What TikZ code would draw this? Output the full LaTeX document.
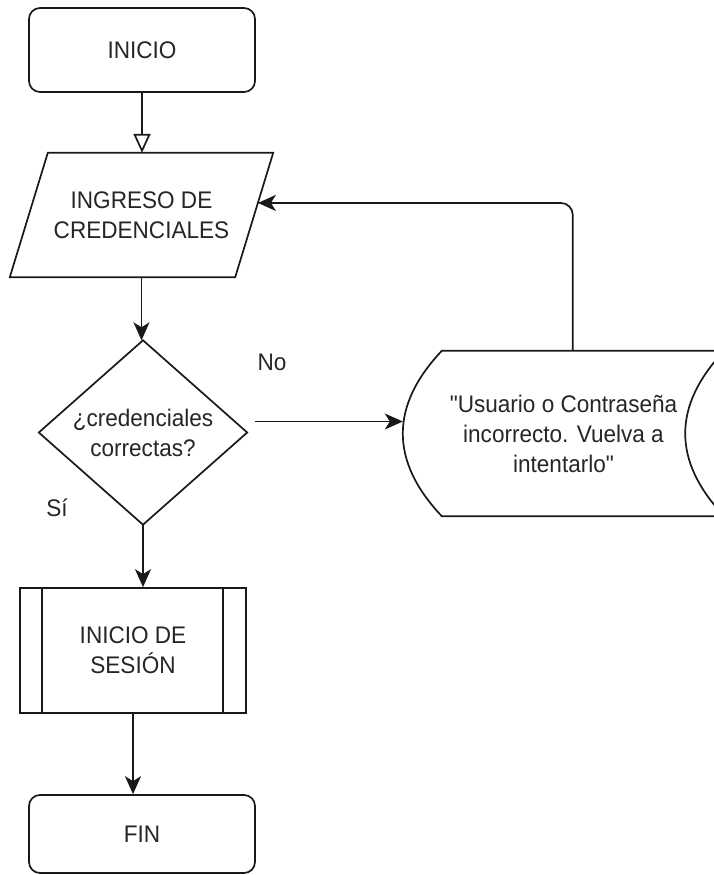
\documentclass[tikz,border=0pt]{standalone}
\usepackage{fontspec}
\setmainfont[FakeStretch=0.94, Ligatures=TeXOff]{Liberation Sans}
\usetikzlibrary{arrows.meta,calc}
\begin{document}
\begin{tikzpicture}[x=1pt,y=-1pt,
  line/.style={draw=black!90, line width=1.7pt},
  arr/.style={line, -{Stealth[length=18pt, width=16pt, inset=5pt]}},
  openarr/.style={line, -{Triangle[open, length=19pt, width=17pt, fill=white]}},
  shapebox/.style={font=\fontsize{24}{30}\selectfont, align=center, inner sep=0pt, text=black!85},
  term/.style={shapebox, line, rounded corners=11pt, minimum width=226pt},
  lbl/.style={font=\fontsize{24}{30}\selectfont, inner sep=0pt, text=black!85}]
\useasboundingbox (0,0) rectangle (714,875);
\clip (0,0) rectangle (714,875);
\fill[white] (0,0) rectangle (714,875);

% start terminal
\node[term, minimum height=84pt] (ini) at (142,50) {INICIO};

% input parallelogram
\node[shapebox, minimum width=263pt, minimum height=124pt] (ing) at (141.5,215) {INGRESO DE\\CREDENCIALES};
\draw[line] ($(ing.north west)+(38,0)$) -- (ing.north east) -- ($(ing.south east)+(-38,0)$) -- (ing.south west) -- cycle;

% decision
\node[shapebox, minimum width=208pt, minimum height=184pt] (dec) at (143,432.5) {¿credenciales\\correctas?};
\draw[line] (dec.north) -- (dec.east) -- (dec.south) -- (dec.west) -- cycle;

% stored data message
\node[shapebox, minimum width=321pt, minimum height=165pt] (sd) at (563.5,433.5) {"Usuario o Contraseña\\incorrecto. Vuelva a\\intentarlo"};
\draw[line] ($(sd.north west)+(39,0)$) -- (sd.north east)
  .. controls ($(sd.north east)+(-52,55)$) and ($(sd.south east)+(-52,-55)$) .. (sd.south east)
  -- ($(sd.south west)+(39,0)$)
  .. controls ($(sd.south west)+(-13,-55)$) and ($(sd.north west)+(-13,55)$) .. cycle;

% predefined process
\node[shapebox, line, minimum width=226pt, minimum height=125pt] (proc) at (133,650.5) {INICIO DE\\SESIÓN};
\draw[line] ($(proc.north west)+(23,0)$) -- ($(proc.south west)+(23,0)$);
\draw[line] ($(proc.north east)+(-24,0)$) -- ($(proc.south east)+(-24,0)$);

% end terminal
\node[term, minimum height=78pt] (fin) at (142,834) {FIN};

% branch labels
\node[lbl] (no) at (272,362) {No};
\node[lbl] (si) at (57,508) {Sí};

% connectors
\draw[openarr] (ini.south) -- (ini.south |- ing.north);
\draw[arr] (ing.south) -- (ing.south |- dec.north);
\coordinate (noStart) at ($(dec.east)+(8,-11)$);
\draw[arr] (noStart) -- (noStart -| sd.west);
\draw[arr] (dec.south) -- (dec.south |- proc.north);
\draw[arr] (proc.south) -- (proc.south |- fin.north);
\coordinate (sdTop) at ($(sd.north west)+(170,0)$);
\coordinate (ingTR) at (ing.north east);
\coordinate (ingBR) at ($(ing.south east)+(-38,0)$);
\coordinate (ingIn) at ($(ingTR)!0.403!(ingBR)$);
\draw[arr, rounded corners=12pt] (sdTop) |- (ingIn);
\end{tikzpicture}
\end{document}
